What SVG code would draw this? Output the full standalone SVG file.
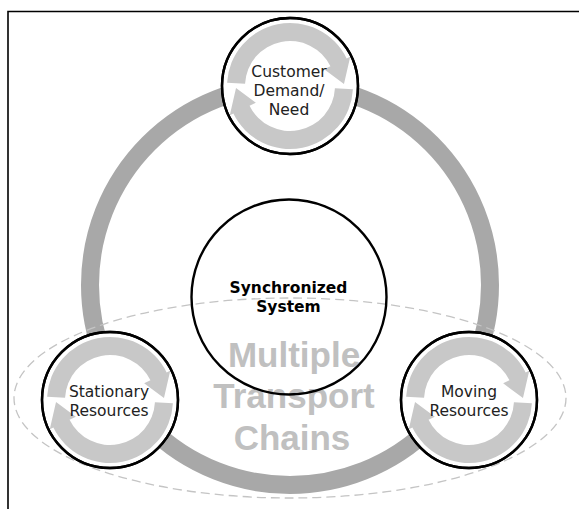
<svg xmlns="http://www.w3.org/2000/svg" width="579" height="509" viewBox="0 0 579 509">
<style>
.node{fill:#fff;stroke:#000;stroke-width:2.4}
.lbl{font-family:"DejaVu Sans","Liberation Sans",sans-serif;font-size:15.5px;fill:#222;text-anchor:middle}
.bold{font-weight:bold;fill:#000;font-size:15.5px}
.big{font-family:"Liberation Sans",Arial,sans-serif;font-weight:bold;font-size:35px;fill:#c0c0c0;text-anchor:middle}
.cyc{fill:#c8c8c8}
</style>
<defs>
<path id="arr" d="M-62.91,-3.30 A63,63 0 0 1 56.62,-27.62 L60.22,-29.37 L53.97,-1.88 L34.15,-16.66 L40.45,-19.73 A45,45 0 0 0 -44.94,-2.36 Z"/>
<g id="cycle">
<use href="#arr" class="cyc"/>
<use href="#arr" class="cyc" transform="rotate(180)"/>
</g>
</defs>
<g id="frame" fill="none" stroke="#000" stroke-width="1.6">
<path d="M8,509 V11.5 H579"/>
</g>
<g id="connectors">
<circle cx="290" cy="285" r="200" fill="none" stroke="#a8a8a8" stroke-width="18"/>
</g>
<g id="transport-chains">
<ellipse cx="290" cy="398" rx="276" ry="100" fill="none" stroke="#c4c4c4" stroke-width="1.3" stroke-dasharray="9 5"/>
<text class="big" x="294" y="367">Multiple</text>
<text class="big" x="294" y="408">Transport</text>
<text class="big" x="292" y="450">Chains</text>
</g>
<g id="synchronized-system">
<circle cx="289" cy="297" r="97.5" fill="none" stroke="#000" stroke-width="2.4"/>
<text class="lbl bold" x="288.5" y="293">Synchronized</text>
<text class="lbl bold" x="288.5" y="312">System</text>
</g>
<g id="customer-demand">
<circle class="node" cx="290" cy="86" r="68"/>
<use href="#cycle" transform="translate(290,86)"/>
<circle cx="290" cy="86" r="68" fill="none" stroke="#000" stroke-width="2.4"/>
<text class="lbl" x="289" y="77">Customer</text>
<text class="lbl" x="289" y="96">Demand/</text>
<text class="lbl" x="289" y="115">Need</text>
</g>
<g id="stationary-resources">
<circle class="node" cx="110" cy="400" r="68"/>
<use href="#cycle" transform="translate(110,400)"/>
<circle cx="110" cy="400" r="68" fill="none" stroke="#000" stroke-width="2.4"/>
<text class="lbl" x="109" y="397">Stationary</text>
<text class="lbl" x="109" y="416">Resources</text>
</g>
<g id="moving-resources">
<circle class="node" cx="469" cy="400" r="68"/>
<use href="#cycle" transform="translate(469,400)"/>
<circle cx="469" cy="400" r="68" fill="none" stroke="#000" stroke-width="2.4"/>
<text class="lbl" x="469" y="397">Moving</text>
<text class="lbl" x="469" y="416">Resources</text>
</g>
</svg>
